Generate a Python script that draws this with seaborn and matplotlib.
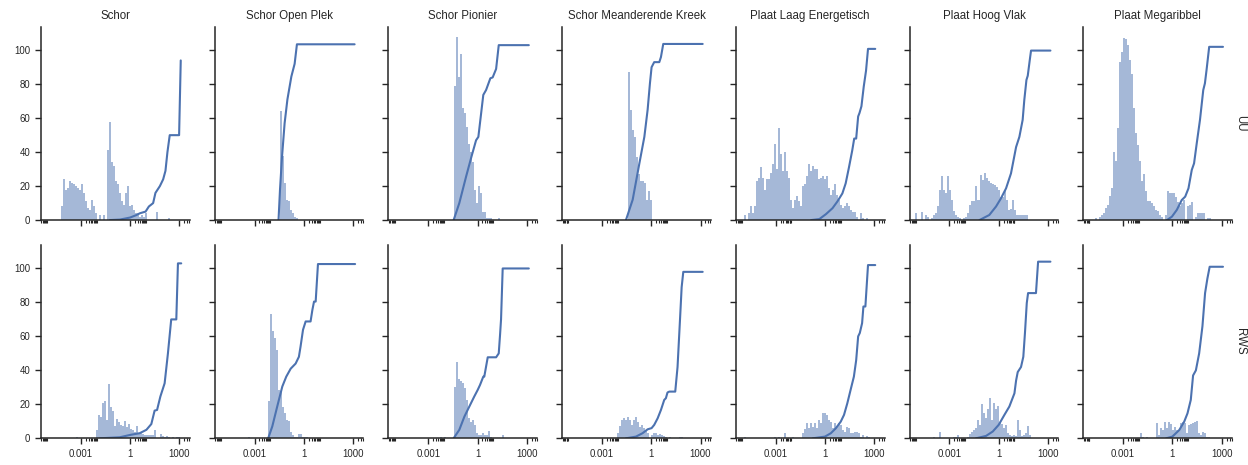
import numpy as np
import pandas as pd
import matplotlib
matplotlib.use("Agg")
import matplotlib.pyplot as plt
from matplotlib.ticker import FixedLocator, FuncFormatter, NullFormatter
import seaborn as sns

# ---------------------------------------------------------------------------
# Data: grain-size histograms (percentage per log10 bin) and cumulative curves
# ---------------------------------------------------------------------------
ZONES = ["Schor", "Schor Open Plek", "Schor Pionier", "Schor Meanderende Kreek",
         "Plaat Laag Energetisch", "Plaat Hoog Vlak", "Plaat Megaribbel"]
SOURCES = ["UU", "RWS"]

BIN_WIDTH = 0.122  # histogram bin width, log10 units

# log10 of the first bin edge per zone
START_UU = [-4.19, -1.48, -1.455, -1.42, -4.94, -5.07, -4.71]
START_RWS = [-3.32, -3.39, -2.31, -2.11, -4.92, -4.01, -1.95]

hist_uu_schor = [8, 24, 18, 19, 23, 22, 21, 20, 19, 18, 21, 16, 11, 7, 6, 12, 8, 4, 0, 3,
                 0, 3, 0, 41, 58, 34, 32, 23, 21, 16, 11, 9, 16, 20, 8, 9, 6, 4, 4, 2,
                 3, 2, 4, 0, 0, 0, 0, 5, 0, 0, 0, 0, 0, 1]
hist_uu_open_plek = [64, 38, 22, 12, 11, 6, 4, 2, 1]
hist_uu_pionier = [79, 108, 84, 98, 66, 63, 55, 45, 40, 34, 18, 10, 20, 16, 5, 5, 1, 1.5,
                   1, 0, 0, 0, 1.5]
hist_uu_kreek = [87, 65, 53, 49, 37, 27, 23, 23, 22, 12, 17, 12]
hist_uu_laag = [3, 0, 4, 8, 4, 8, 23, 25, 31, 25, 18, 24, 24, 28, 33, 45, 30, 54, 39, 29,
                40, 29, 25, 12, 7, 12, 14, 11, 8, 20, 21, 26, 33, 29, 32, 30, 30, 24, 25, 26,
                24, 26, 19, 15, 18, 21, 15, 12, 9, 7, 8, 10, 8, 6, 5, 5, 2, 0, 4, 1,
                0, 1.5]
hist_uu_hoog = [4, 0, 0, 5, 0, 3, 2, 0, 1, 3, 4, 8, 18, 26, 18, 16, 26, 18, 12, 5.5,
                3, 2, 1, 0, 1, 2, 4, 9, 11, 11, 20, 12, 26.5, 23.6, 27.5, 25, 23, 22, 21, 20.6,
                19.6, 17.7, 13.8, 13.8, 18, 11.8, 6, 6.3, 11.8, 6, 3, 3, 3, 3, 3, 3]
hist_uu_megaribbel = [1, 0, 2, 3, 4.3, 7, 9, 14, 19, 40, 35, 54, 93, 99, 107, 106.5, 103, 94,
                      86, 66, 51, 44, 35, 23, 27, 17, 11, 11, 10, 8, 6, 5.5, 3, 2, 0, 3,
                      17, 16, 16, 15.7, 13.8, 10.8, 8, 10, 11.8, 0, 8, 9, 10.8, 0, 2, 4,
                      4, 4, 4, 0, 1, 1]

hist_rws_schor = [0.6, 0, 0, 0, 0, 0, 0, 0, 0, 0, 5, 14, 12.8, 21, 22, 10.8, 32, 18.7, 16.3,
                  7.3, 11.2, 9.8, 8, 7, 10.2, 6.5, 8.4, 5.3, 5, 4, 7, 3, 3.5, 2.5, 2.2, 2,
                  2, 2, 2, 5, 0, 0, 2.5, 1.4, 1, 1.4, 0.6, 0, 1, 0, 0.6, 1]
hist_rws_open_plek = [0.6, 0, 0, 0, 0, 0, 0, 0, 0, 0, 22, 73, 63, 59, 52, 28.5, 27.5, 18.7,
                      15, 11, 10, 4, 2, 1, 1, 2.5, 2.5, 1, 0.6, 0.6]
hist_rws_pionier = [0.6, 0, 1, 0, 0, 0, 0, 30, 45, 35, 34, 32.4, 29.5, 22.6, 11.8, 9.8, 10.8,
                    7.9, 3, 2, 2, 3, 2, 2, 4.3, 1, 0, 0, 0, 0, 0, 2]
hist_rws_kreek = [3, 7.3, 10.8, 11.8, 10.8, 12.8, 10.8, 7.9, 10.8, 12.8, 9.8, 6.9, 7.9, 5.9,
                  4.9, 3, 0, 2, 3.3, 3, 2, 2.5, 2, 1.4, 0.6, 0, 0.6, 0, 0, 0, 0, 1, 1]
hist_rws_laag = ([0.6] + [0] * 14
                 + [1, 0, 1, 0, 0, 3, 0, 0, 0, 1, 0, 0, 0, 0]
                 + [3, 5.3, 8.8, 5.9, 8.8, 6.5, 9.2, 5.9, 10.8, 9.2, 15, 15, 13.8, 10.8, 9.8,
                    5.9, 8.8, 6.9, 8.8, 7.9, 4.9, 3.9, 6.9, 5.9, 3, 3.3, 3.9, 3.9, 3, 1, 2, 0,
                    1.4, 1])
hist_rws_hoog = [0.6, 0, 0, 4, 0, 0, 0, 0, 0, 0, 1, 1, 2, 0, 0, 0, 0, 1, 2.5, 4, 5, 6, 11, 8,
                 20, 15, 12, 17, 24, 11, 21, 17, 19, 9, 8.4, 6, 8, 3, 2, 1.4, 2, 1.4, 11, 5,
                 1.4, 2, 3, 7, 2]
hist_rws_megaribbel = [3, 0.6, 0, 0.6, 0, 0, 0, 0, 9.2, 2, 5.9, 4.9, 9.8, 5.9, 9.8, 8.4, 4.9,
                       6.9, 4.9, 4.5, 8.8, 9.8, 9.2, 3, 7.9, 8.4, 9.2, 9.8, 10.2, 3, 2, 4, 3,
                       1, 1]

HIST_UU = [hist_uu_schor, hist_uu_open_plek, hist_uu_pionier, hist_uu_kreek,
           hist_uu_laag, hist_uu_hoog, hist_uu_megaribbel]
HIST_RWS = [hist_rws_schor, hist_rws_open_plek, hist_rws_pionier, hist_rws_kreek,
            hist_rws_laag, hist_rws_hoog, hist_rws_megaribbel]

# cumulative curves: log10 size and cumulative percentage
cum_uu_schor_x = [-1.23, -0.62, 0.0, 0.39, 0.59, 0.94, 1.14, 1.40, 1.54, 1.81, 2.01, 2.15, 2.27, 2.41, 2.98, 3.08]
cum_uu_schor_y = [0, 0.3, 1.5, 3, 4, 5, 8, 10, 16, 20, 24, 29, 40, 50, 50, 94]
cum_uu_open_plek_x = [-1.54, -1.45, -1.33, -1.17, -1.0, -0.76, -0.56, -0.42, 3.09]
cum_uu_open_plek_y = [0, 18, 37, 57, 71, 84.5, 92, 103.5, 103.5]
cum_uu_pionier_x = [-1.455, -1.11, -0.70, -0.38, -0.09, 0.05, 0.35, 0.52, 0.78, 0.92, 1.13, 1.29, 3.12]
cum_uu_pionier_y = [0, 10, 25.5, 37, 47, 49, 73.7, 76.6, 83.5, 84, 89, 103, 103]
cum_uu_kreek_x = [-1.54, -1.13, -0.73, -0.42, -0.22, -0.08, 0.02, 0.18, 0.49, 0.59, 0.73, 3.13]
cum_uu_kreek_y = [0, 12, 33, 49, 65, 80.5, 90, 93, 93, 96, 103.7, 103.7]
cum_uu_laag_x = [-0.84, -0.34, 0.06, 0.46, 0.76, 1.06, 1.26, 1.46, 1.66, 1.78, 1.9, 2.02, 2.1, 2.22, 2.36, 2.5, 2.62, 3.06]
cum_uu_laag_y = [0, 0.6, 3.5, 7, 11, 15.7, 21.6, 31, 41, 48, 48, 61, 63, 67, 78.6, 88, 100.8, 100.8]
cum_uu_hoog_x = [-1.17, -0.57, -0.16, 0.14, 0.45, 0.75, 1.06, 1.26, 1.46, 1.56, 1.69, 1.77, 1.91, 1.97, 3.15]
cum_uu_hoog_y = [0, 3, 8, 12.8, 18.7, 27.5, 43, 49, 59, 70.7, 82.5, 85, 95.5, 99.8, 99.8]
cum_uu_megaribbel_x = [-0.33, -0.03, 0.27, 0.57, 0.78, 0.98, 1.18, 1.32, 1.48, 1.68, 1.88, 1.98, 2.08, 2.24, 3.08]
cum_uu_megaribbel_y = [0, 2, 6, 11.8, 13.8, 18.7, 29.5, 33.4, 45, 59, 76.6, 80.5, 88.4, 102, 102]

cum_rws_schor_x = [-1.85, -0.63, 0.0, 0.58, 0.99, 1.29, 1.49, 1.64, 1.84, 2.1, 2.3, 2.5, 2.81, 2.91, 3.11]
cum_rws_schor_y = [0, 0.6, 2, 3, 5, 8.4, 16.3, 16.7, 24.6, 32.4, 50, 70, 70, 103, 103]
cum_rws_open_plek_x = [-2.17, -1.92, -1.62, -1.31, -1.07, -0.8, -0.5, -0.3, -0.2, -0.05, 0.11, 0.41, 0.52, 0.62, 0.72, 0.86, 3.12]
cum_rws_open_plek_y = [0, 7, 18.7, 30.5, 36.3, 41, 44, 48, 54, 63.9, 68.8, 68.8, 75.6, 80.5, 80.5, 102.6, 102.6]
cum_rws_pionier_x = [-1.455, -1.11, -0.8, -0.5, -0.2, 0.01, 0.15, 0.35, 0.41, 0.62, 1.13, 1.29, 1.37, 1.43, 1.53, 3.12]
cum_rws_pionier_y = [0, 5, 12.8, 18.7, 24.6, 28.5, 31.4, 36.3, 36.3, 47.7, 47.7, 50, 61, 70, 100, 100]
cum_rws_kreek_x = [-1.54, -0.93, -0.53, -0.22, 0.02, 0.18, 0.39, 0.59, 0.79, 0.89, 0.99, 1.1, 1.46, 1.6, 1.75, 1.85, 1.95, 3.13]
cum_rws_kreek_y = [0, 1, 3, 5.3, 6, 7.9, 11.8, 16.7, 22.6, 23.6, 27, 27.5, 27.5, 42, 70, 89, 98, 98]
cum_rws_laag_x = [-0.74, 0.0, 0.36, 0.66, 0.96, 1.16, 1.36, 1.56, 1.76, 1.9, 2.02, 2.12, 2.26, 2.34, 2.46, 2.62, 3.06]
cum_rws_laag_y = [0, 1, 3, 5.9, 9.8, 13.8, 20.6, 28.5, 36.3, 46, 60, 62, 67.8, 77.6, 77.6, 102, 102]
cum_rws_hoog_x = [-1.38, -0.77, -0.36, 0.0, 0.35, 0.65, 0.96, 1.06, 1.16, 1.36, 1.5, 1.6, 1.71, 1.79, 2.27, 2.4, 3.15]
cum_rws_hoog_y = [0, 1.4, 4, 7.9, 13.8, 18.7, 26.5, 34, 39, 42, 48, 62, 79.6, 85.5, 85.5, 104, 104]
cum_rws_megaribbel_x = [-0.38, 0.0, 0.42, 0.72, 0.92, 1.12, 1.26, 1.43, 1.63, 1.83, 1.99, 2.13, 2.27, 3.08]
cum_rws_megaribbel_y = [0, 1, 4.9, 9.8, 14.7, 22.6, 37, 40, 50, 66, 85.5, 94, 101, 101]

CUM_UU = [(cum_uu_schor_x, cum_uu_schor_y), (cum_uu_open_plek_x, cum_uu_open_plek_y),
          (cum_uu_pionier_x, cum_uu_pionier_y), (cum_uu_kreek_x, cum_uu_kreek_y),
          (cum_uu_laag_x, cum_uu_laag_y), (cum_uu_hoog_x, cum_uu_hoog_y),
          (cum_uu_megaribbel_x, cum_uu_megaribbel_y)]
CUM_RWS = [(cum_rws_schor_x, cum_rws_schor_y), (cum_rws_open_plek_x, cum_rws_open_plek_y),
           (cum_rws_pionier_x, cum_rws_pionier_y), (cum_rws_kreek_x, cum_rws_kreek_y),
           (cum_rws_laag_x, cum_rws_laag_y), (cum_rws_hoog_x, cum_rws_hoog_y),
           (cum_rws_megaribbel_x, cum_rws_megaribbel_y)]

# ---------------------------------------------------------------------------
# Long-form tables
# ---------------------------------------------------------------------------
hist_parts, cum_parts = [], []
for src, starts, hists, curves in (("UU", START_UU, HIST_UU, CUM_UU),
                                   ("RWS", START_RWS, HIST_RWS, CUM_RWS)):
    for zone, start, heights, (cx, cy) in zip(ZONES, starts, hists, curves):
        heights = np.asarray(heights, dtype=float)
        idx = np.arange(len(heights))
        hist_parts.append(pd.DataFrame({
            "source": src, "zone": zone,
            "size": 10 ** (start + (idx + 0.5) * BIN_WIDTH),
            "pct": heights, "start": start, "nbins": len(heights)}))
        cum_parts.append(pd.DataFrame({
            "source": src, "zone": zone,
            "size": 10 ** np.asarray(cx, dtype=float),
            "cum": np.asarray(cy, dtype=float)}))
hist_df = pd.concat(hist_parts, ignore_index=True)
cum_df = pd.concat(cum_parts, ignore_index=True)

# ---------------------------------------------------------------------------
# Plot
# ---------------------------------------------------------------------------
BLUE = "#4C72B0"
sns.set_style("ticks")
plt.rcParams.update({
    "font.family": ["Liberation Sans", "DejaVu Sans"],
    "text.color": ".15", "axes.labelcolor": ".15",
    "xtick.color": ".15", "ytick.color": ".15", "axes.edgecolor": ".15",
    "axes.linewidth": 1.1,
    "xtick.major.size": 4.2, "ytick.major.size": 4.2,
    "xtick.minor.size": 2.2, "xtick.major.width": 1.0, "ytick.major.width": 1.0,
    "xtick.minor.width": 0.8,
    "xtick.labelsize": 6.9, "ytick.labelsize": 6.9,
})

g = sns.FacetGrid(hist_df, row="source", col="zone", row_order=SOURCES, col_order=ZONES,
                  sharex=True, sharey=True, height=1.93, aspect=0.77)


def draw_hist(data, **kws):
    ax = plt.gca()
    start = data["start"].iloc[0]
    nbins = int(data["nbins"].iloc[0])
    sns.histplot(data=data, x="size", weights="pct", bins=nbins,
                 binrange=(start, start + nbins * BIN_WIDTH), log_scale=True,
                 stat="count", element="bars", color=BLUE, alpha=0.5,
                 linewidth=0, ax=ax)


g.map_dataframe(draw_hist)

for (src, zone), ax in g.axes_dict.items():
    d = cum_df[(cum_df["source"] == src) & (cum_df["zone"] == zone)]
    sns.lineplot(data=d, x="size", y="cum", ax=ax, color=BLUE, linewidth=1.5,
                 estimator=None, sort=False)

# column titles on top, source names on the right margin
for ax, zone in zip(g.axes[0, :], ZONES):
    ax.set_title(zone, fontsize=8.3, pad=6)
for ax in g.axes[1, :]:
    ax.set_title("")
for ax, src in zip(g.axes[:, -1], SOURCES):
    ax.annotate(src, xy=(1.0, 0.5), xycoords="axes fraction", xytext=(1.5, 0),
                textcoords="offset points", rotation=270, ha="left", va="center",
                fontsize=8.3)
g.set_axis_labels("", "")

minor_ticks = [s * 10.0 ** d for d in (-6, -3, 0, 3) for s in range(2, 10)]
for ax in g.axes.flat:
    ax.set_xscale("log")
    ax.set_xlim(10 ** -5.42, 10 ** 3.63)
    ax.set_ylim(0, 113.7)
    ax.xaxis.set_major_locator(FixedLocator([1e-3, 1.0, 1e3]))
    ax.xaxis.set_minor_locator(FixedLocator(minor_ticks))
    ax.xaxis.set_minor_formatter(NullFormatter())
    ax.set_yticks([0, 20, 40, 60, 80, 100])
for ax in g.axes[-1, :]:
    ax.xaxis.set_major_formatter(FuncFormatter(lambda v, p: f"{v:g}"))

g.figure.set_size_inches(12.48, 4.65)
g.figure.subplots_adjust(left=0.0329, right=0.9872, top=0.942, bottom=0.0574,
                         wspace=0.168, hspace=0.13)
g.figure.savefig("out.png", dpi=100)
